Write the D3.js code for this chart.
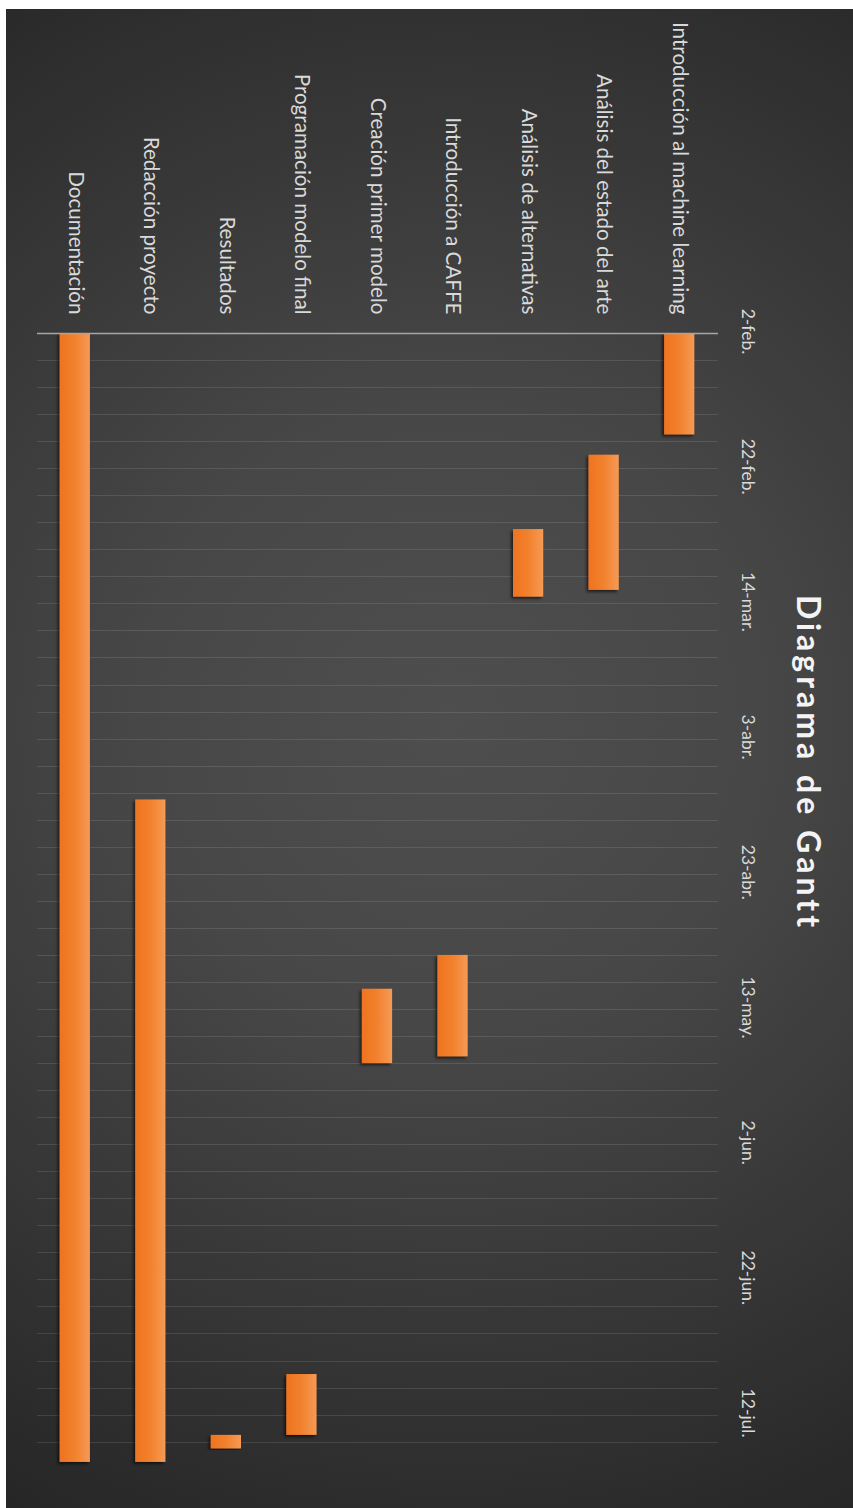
<!DOCTYPE html>
<html>
<head>
<meta charset="utf-8">
<script src="https://cdn.jsdelivr.net/npm/d3@7"></script>
<style>
  html, body { margin: 0; padding: 0; background: #ffffff; }
  svg { display: block; }
</style>
</head>
<body>
<svg id="chart" width="853" height="1508"></svg>
<script>
// Tasks (top of the schedule first)
const tasks = [
  "Introducción al machine learning",
  "Análisis del estado del arte",
  "Análisis de alternativas",
  "Introducción a CAFFE",
  "Creación primer modelo",
  "Programación modelo final",
  "Resultados",
  "Redacción proyecto",
  "Documentación"
];
const startDates = [
  "2015-02-02", "2015-02-20", "2015-03-03", "2015-05-05", "2015-05-10",
  "2015-07-06", "2015-07-15", "2015-04-12", "2015-02-02"
];
const endDates = [
  "2015-02-17", "2015-03-12", "2015-03-13", "2015-05-20", "2015-05-21",
  "2015-07-15", "2015-07-17", "2015-07-19", "2015-07-19"
];
// Date axis
const axisStart = "2015-02-02";
const axisEnd = "2015-07-20";
const tickDates = [
  "2015-02-02", "2015-02-22", "2015-03-14", "2015-04-03", "2015-04-23",
  "2015-05-13", "2015-06-02", "2015-06-22", "2015-07-12"
];
const monthNames = ["ene.", "feb.", "mar.", "abr.", "may.", "jun.", "jul.", "ago.", "sep.", "oct.", "nov.", "dic."];
const title = "Diagrama de Gantt";

const parse = d3.utcParse("%Y-%m-%d");
const fmt = d => d.getUTCDate() + "-" + monthNames[d.getUTCMonth()];

const svg = d3.select("#chart");
const defs = svg.append("defs");

// Background
const bg = defs.append("radialGradient")
  .attr("id", "bgGrad").attr("gradientUnits", "userSpaceOnUse")
  .attr("cx", 450).attr("cy", 720).attr("r", 900);
bg.append("stop").attr("offset", 0).attr("stop-color", "#4e4e4e");
bg.append("stop").attr("offset", 0.35).attr("stop-color", "#474747");
bg.append("stop").attr("offset", 0.75).attr("stop-color", "#333333");
bg.append("stop").attr("offset", 1).attr("stop-color", "#262626");

// Bar fill and shadow
const barGrad = defs.append("linearGradient")
  .attr("id", "barGrad").attr("x1", 0).attr("x2", 1).attr("y1", 0).attr("y2", 0);
barGrad.append("stop").attr("offset", 0).attr("stop-color", "#ee731f");
barGrad.append("stop").attr("offset", 0.5).attr("stop-color", "#f2812e");
barGrad.append("stop").attr("offset", 1).attr("stop-color", "#f59a55");

const shadow = defs.append("filter").attr("id", "barShadow")
  .attr("x", "-30%").attr("y", "-10%").attr("width", "160%").attr("height", "120%");
shadow.append("feDropShadow").attr("dx", -2).attr("dy", 2).attr("stdDeviation", 1.6)
  .attr("flood-color", "#000").attr("flood-opacity", 0.6);

svg.append("rect").attr("x", 6).attr("y", 9).attr("width", 847).attr("height", 1499)
  .attr("fill", "url(#bgGrad)");

// Scales: dates run downward, tasks run right-to-left
const y = d3.scaleUtc()
  .domain([parse(axisStart), parse(axisEnd)])
  .range([333, 333 + 168 * 6.76]);
const x = d3.scaleBand()
  .domain(tasks)
  .range([717, 37])
  .paddingInner(0.6)
  .paddingOuter(0.3);

const plotLeft = 37, plotRight = 717;

// Gridlines every 4 days
const gridDates = d3.utcDay.range(d3.utcDay.offset(parse(axisStart), 4), parse(axisEnd), 4);
svg.append("g").selectAll("line").data(gridDates).join("line")
  .attr("x1", plotLeft).attr("x2", plotRight + 1)
  .attr("y1", d => Math.round(y(d)) + 0.5).attr("y2", d => Math.round(y(d)) + 0.5)
  .attr("stroke", "#ffffff").attr("stroke-opacity", 0.11).attr("stroke-width", 1);

// Bars
const rows = tasks.map((t, i) => ({ task: t, start: parse(startDates[i]), end: parse(endDates[i]) }));
svg.append("g").selectAll("rect").data(rows).join("rect")
  .attr("x", d => x(d.task))
  .attr("width", x.bandwidth())
  .attr("y", d => y(d.start))
  .attr("height", d => y(d.end) - y(d.start))
  .attr("fill", "url(#barGrad)")
  .attr("filter", "url(#barShadow)");

// Task axis along the top edge of the plot
const taskAxis = svg.append("g")
  .attr("transform", "translate(0,333.5)")
  .call(d3.axisTop(x).tickSize(0).tickSizeOuter(0));
taskAxis.select(".domain").attr("stroke", "#a6a6a6").attr("stroke-width", 1.3)
  .attr("d", `M${plotLeft},0H${plotRight + 1}`);
taskAxis.selectAll(".tick text")
  .attr("x", null).attr("y", null).attr("dy", "0.3em")
  .attr("text-anchor", "end")
  .attr("transform", "translate(0,-19) rotate(90)")
  .attr("fill", "#d9d9d9")
  .style("font-family", "Lato, 'Open Sans', sans-serif")
  .style("font-size", "20.6px");

// Date axis on the right side
const dateAxis = svg.append("g")
  .attr("transform", `translate(${plotRight},0)`)
  .call(d3.axisRight(y).tickValues(tickDates.map(parse)).tickFormat(fmt).tickSize(0));
dateAxis.select(".domain").remove();
dateAxis.selectAll(".tick text")
  .attr("x", null).attr("y", null).attr("dy", null)
  .attr("text-anchor", "middle")
  .attr("transform", "translate(25,-2) rotate(90)")
  .attr("fill", "#d9d9d9")
  .style("font-family", "Lato, 'Open Sans', sans-serif")
  .style("font-size", "17.5px");

// Title
svg.append("text")
  .attr("transform", "translate(797,763) rotate(90)")
  .attr("text-anchor", "middle")
  .attr("fill", "#f4f4f4")
  .style("font-family", "Lato, 'Open Sans', sans-serif")
  .style("font-weight", "bold")
  .style("font-size", "32px")
  .style("letter-spacing", "4px")
  .text(title);
</script>
</body>
</html>
